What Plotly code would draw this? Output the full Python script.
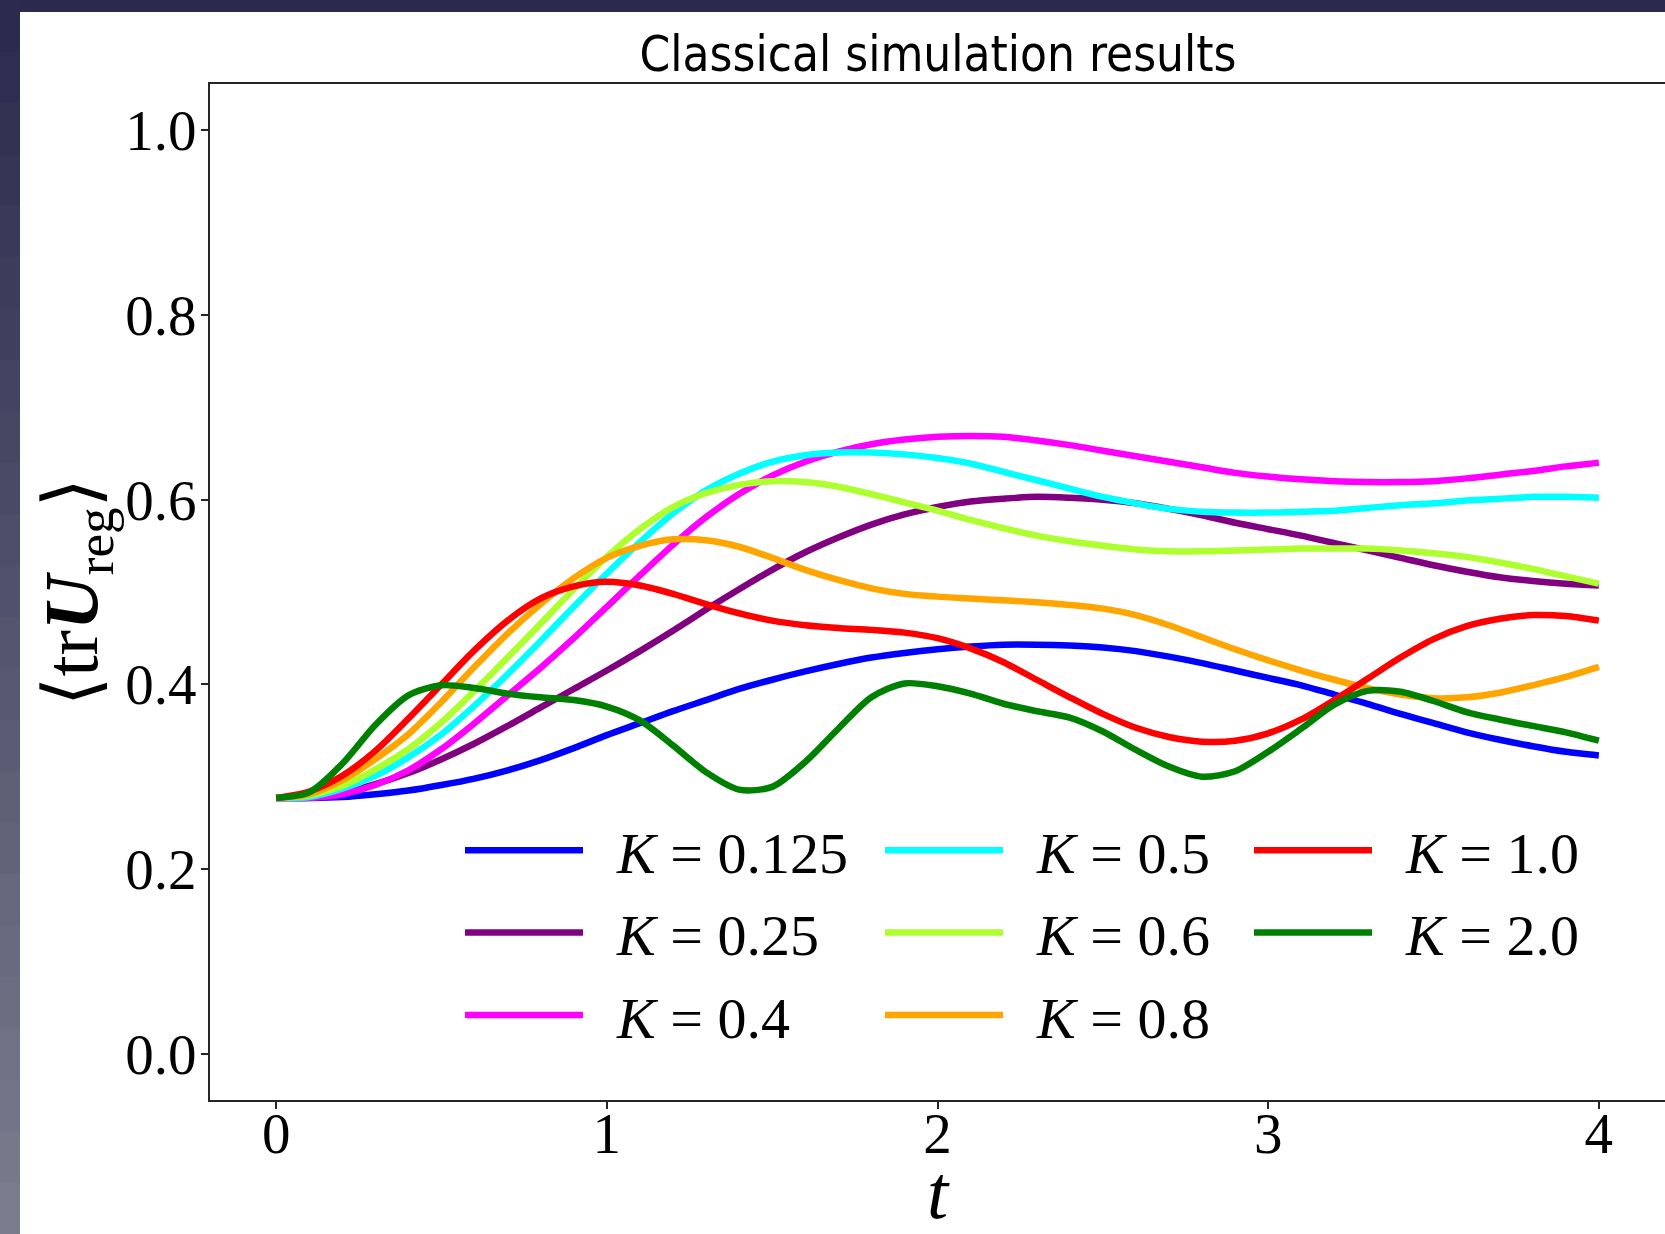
import plotly.graph_objects as go

# ---------------- data ----------------
t = [round(0.1 * i, 1) for i in range(41)]

K_labels = ["0.125", "0.25", "0.4", "0.5", "0.6", "0.8", "1.0", "2.0"]
colors = ["#0000ff", "#800080", "#ff00ff", "#00ffff", "#adff2f", "#ffa500", "#ff0000", "#008000"]

y_K0125 = [0.277, 0.277, 0.278, 0.281, 0.285, 0.291, 0.298, 0.307, 0.318, 0.331, 0.345,
           0.358, 0.371, 0.383, 0.395, 0.405, 0.414, 0.422, 0.429, 0.434, 0.438,
           0.441, 0.443, 0.443, 0.442, 0.440, 0.436, 0.430, 0.423, 0.415, 0.407,
           0.399, 0.389, 0.379, 0.368, 0.358, 0.348, 0.340, 0.333, 0.327, 0.323]
y_K025 = [0.277, 0.278, 0.283, 0.292, 0.304, 0.319, 0.336, 0.355, 0.375, 0.395, 0.415,
          0.436, 0.458, 0.481, 0.503, 0.524, 0.543, 0.559, 0.573, 0.584, 0.592,
          0.598, 0.601, 0.603, 0.602, 0.600, 0.596, 0.590, 0.583, 0.575, 0.568,
          0.561, 0.553, 0.545, 0.537, 0.529, 0.522, 0.516, 0.512, 0.509, 0.507]
y_K04 = [0.277, 0.277, 0.281, 0.291, 0.307, 0.330, 0.358, 0.388, 0.418, 0.450, 0.484,
         0.518, 0.551, 0.581, 0.606, 0.626, 0.641, 0.652, 0.660, 0.665, 0.668,
         0.669, 0.668, 0.664, 0.659, 0.653, 0.647, 0.641, 0.635, 0.629, 0.625,
         0.622, 0.620, 0.619, 0.619, 0.620, 0.623, 0.627, 0.631, 0.636, 0.640]
y_K05 = [0.277, 0.278, 0.287, 0.301, 0.321, 0.346, 0.377, 0.411, 0.447, 0.484, 0.520,
         0.554, 0.585, 0.610, 0.628, 0.641, 0.648, 0.651, 0.651, 0.649, 0.645,
         0.639, 0.630, 0.621, 0.612, 0.603, 0.596, 0.590, 0.587, 0.586, 0.586,
         0.587, 0.588, 0.591, 0.594, 0.596, 0.599, 0.601, 0.603, 0.603, 0.602]
y_K06 = [0.277, 0.280, 0.290, 0.308, 0.330, 0.359, 0.393, 0.429, 0.466, 0.503, 0.538,
         0.568, 0.592, 0.607, 0.616, 0.620, 0.619, 0.614, 0.606, 0.597, 0.588,
         0.578, 0.569, 0.561, 0.555, 0.550, 0.546, 0.544, 0.544, 0.545, 0.546,
         0.547, 0.547, 0.547, 0.545, 0.542, 0.538, 0.532, 0.525, 0.517, 0.509]
y_K08 = [0.277, 0.281, 0.296, 0.319, 0.346, 0.381, 0.419, 0.455, 0.487, 0.515, 0.537,
         0.550, 0.557, 0.556, 0.549, 0.537, 0.524, 0.513, 0.504, 0.498, 0.495,
         0.493, 0.491, 0.489, 0.486, 0.482, 0.475, 0.464, 0.451, 0.438, 0.426,
         0.415, 0.405, 0.396, 0.389, 0.385, 0.386, 0.391, 0.399, 0.408, 0.419]
y_K10 = [0.277, 0.284, 0.301, 0.328, 0.363, 0.400, 0.437, 0.469, 0.493, 0.506, 0.511,
         0.507, 0.498, 0.487, 0.477, 0.469, 0.464, 0.461, 0.459, 0.456, 0.450,
         0.439, 0.424, 0.405, 0.386, 0.368, 0.353, 0.343, 0.338, 0.339, 0.347,
         0.362, 0.383, 0.406, 0.429, 0.449, 0.463, 0.471, 0.475, 0.474, 0.469]
y_K20 = [0.277, 0.283, 0.314, 0.356, 0.388, 0.399, 0.396, 0.390, 0.386, 0.383, 0.376,
         0.361, 0.334, 0.305, 0.286, 0.289, 0.316, 0.352, 0.386, 0.401, 0.398,
         0.390, 0.379, 0.371, 0.364, 0.349, 0.329, 0.311, 0.300, 0.306, 0.327,
         0.352, 0.378, 0.393, 0.392, 0.382, 0.370, 0.362, 0.355, 0.348, 0.339]

series = [y_K0125, y_K025, y_K04, y_K05, y_K06, y_K08, y_K10, y_K20]
legend_of = ["legend", "legend", "legend", "legend2", "legend2", "legend2", "legend3", "legend3"]

x_ticks = [0, 1, 2, 3, 4]
y_ticks = [0.0, 0.2, 0.4, 0.6, 0.8, 1.0]

# ---------------- figure ----------------
W, H = 1665, 1234
ML, MR, MT, MB = 210, 0, 84, 134
PW, PH = W - ML - MR, H - MT - MB

def px_x(px):
    return (px - ML) / PW

def px_y(py):
    return (H - MB - py) / PH

SERIF = "Liberation Serif, DejaVu Serif, serif"
SANS = "Liberation Sans Narrow, DejaVu Sans Condensed, Liberation Sans, sans-serif"
NB = "\u00a0"

fig = go.Figure()
for i, (lab, ys) in enumerate(zip(K_labels, series)):
    fig.add_trace(go.Scatter(
        x=t, y=ys, mode="lines", name=f"{NB}{NB}<i>K</i> = {lab}",
        line=dict(color=colors[i], width=6.5, shape="spline", smoothing=0.8),
        legend=legend_of[i], legendgroup=f"g{i}",
    ))

leg_common = dict(
    orientation="v", xanchor="left", yanchor="top", bgcolor="rgba(0,0,0,0)",
    borderwidth=0, font=dict(family=SERIF, size=58, color="black"),
    itemwidth=118, tracegroupgap=4,
)
fig.update_layout(
    legend=dict(x=px_x(460), y=px_y(806), **leg_common),
    legend2=dict(x=px_x(880), y=px_y(806), **leg_common),
    legend3=dict(x=px_x(1249), y=px_y(806), **leg_common),
)

# slide background strips (dark frame of the screenshot)
shapes = [dict(type="rect", xref="paper", yref="paper", x0=px_x(0), x1=px_x(W),
               y0=px_y(0), y1=px_y(12), fillcolor="#2b2a4c", line_width=0, layer="below")]
n = 24
top_rgb = (44, 43, 78)
bot_rgb = (122, 123, 140)
for k in range(n):
    f = k / (n - 1)
    c = tuple(int(round(a + (b - a) * f)) for a, b in zip(top_rgb, bot_rgb))
    y0 = k * H / n
    y1 = (k + 1) * H / n
    shapes.append(dict(type="rect", xref="paper", yref="paper", x0=px_x(0), x1=px_x(20),
                       y0=px_y(y0), y1=px_y(y1 + 1), fillcolor="rgb(%d,%d,%d)" % c,
                       line_width=0, layer="below"))

fig.update_layout(
    width=W, height=H,
    margin=dict(l=ML, r=MR, t=MT, b=MB, pad=0, autoexpand=False),
    paper_bgcolor="white", plot_bgcolor="white",
    shapes=shapes,
    title=dict(text="Classical simulation results", x=px_x(938), xref="paper",
               xanchor="center", y=1 - 54 / H, yanchor="middle",
               font=dict(family=SANS, size=49, color="black")),
    xaxis=dict(range=[-0.2, 4.2], tickvals=x_ticks, ticktext=[str(v) for v in x_ticks],
               automargin=False,
               showgrid=False, zeroline=False, showline=True, mirror=True,
               linecolor="#262626", linewidth=2, ticks="outside", ticklen=7, tickwidth=1.5,
               tickcolor="#262626", tickfont=dict(family=SERIF, size=57, color="black"),
               ticklabelstandoff=-24,
               title=dict(text="<i>t</i>", font=dict(family=SERIF, size=76, color="black"),
                          standoff=20)),
    yaxis=dict(range=[-0.05, 1.05], tickvals=y_ticks, ticktext=["%.1f" % v for v in y_ticks],
               automargin=False,
               showgrid=False, zeroline=False, showline=True, mirror=True,
               linecolor="#262626", linewidth=2, ticks="outside", ticklen=7, tickwidth=1.5,
               tickcolor="#262626", tickfont=dict(family=SERIF, size=57, color="black"),
               ticklabelstandoff=-7,
               title=dict(text="⟨tr<b><i>U</i></b><sub>reg</sub>⟩",
                          font=dict(family=SERIF, size=76, color="black"), standoff=0)),
)

fig.write_html("out.html")
